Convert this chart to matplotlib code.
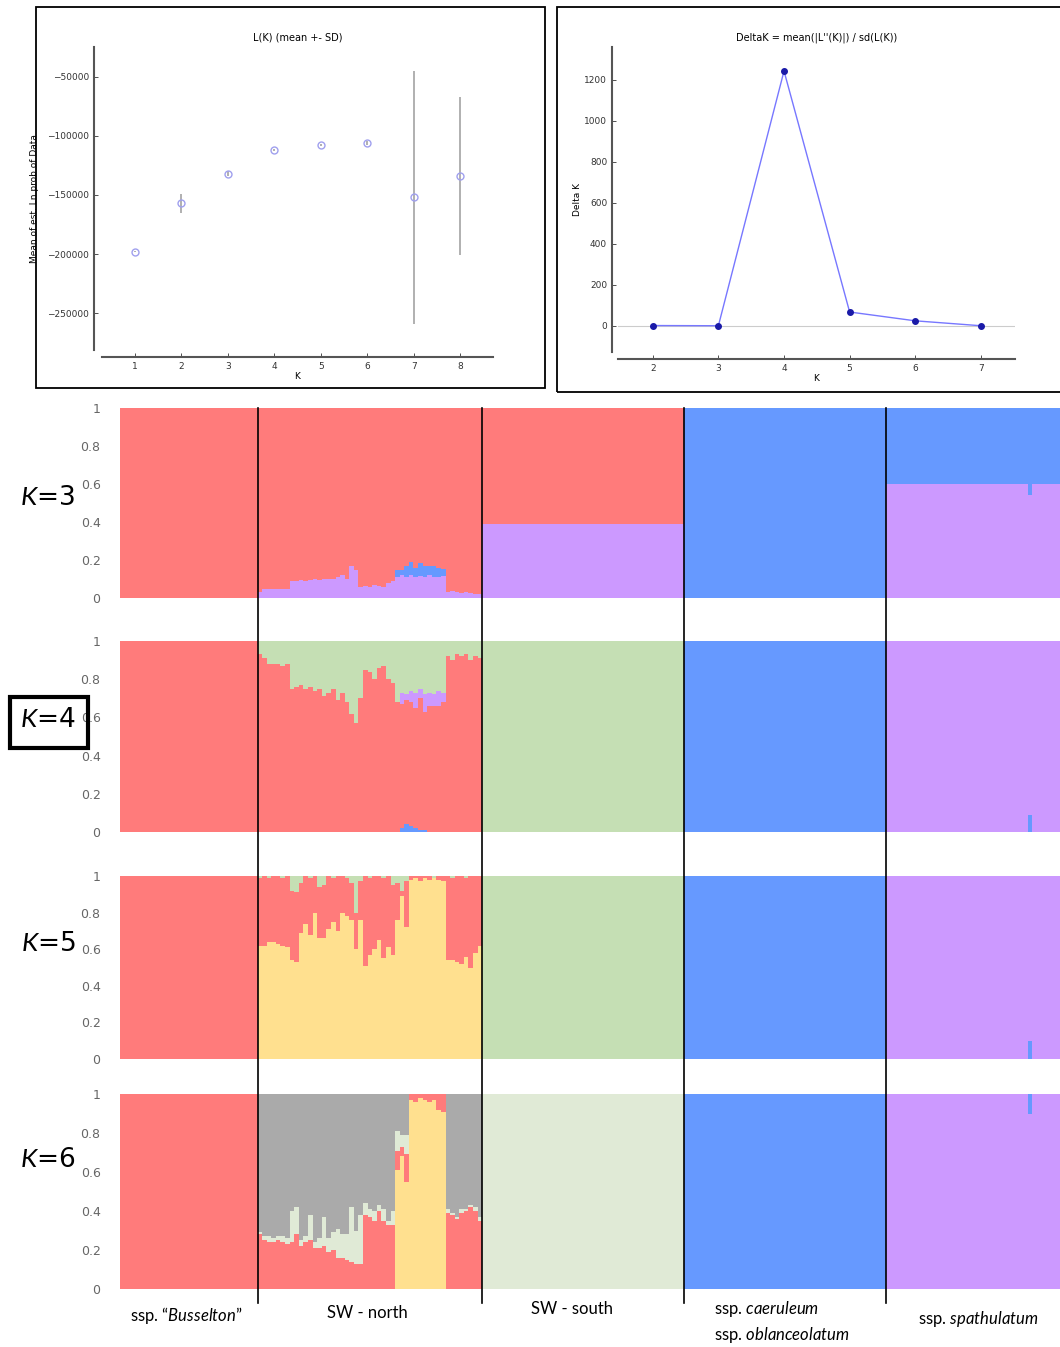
import numpy as np
import matplotlib.pyplot as plt
from matplotlib.patches import Rectangle
from matplotlib.lines import Line2D

plt.rcParams['mathtext.fontset'] = 'custom'
plt.rcParams['mathtext.rm'] = 'Lato'
plt.rcParams['mathtext.it'] = 'Lato:italic'

# ---- Evanno summary ----
k_lk = [1, 2, 3, 4, 5, 6, 7, 8]
lk_mean = [-198000, -157000, -132000, -112000, -108000, -106000, -152000, -134000]
lk_sd = [500, 8000, 2000, 1000, 800, 1500, 107000, 67000]

k_delta = [2, 3, 4, 5, 6, 7]
delta_k = [2, 1, 1243, 68, 25, 1]

# ---- STRUCTURE barplots ----
group_labels = ['ssp. \u201c$\\it{Busselton}$\u201d', 'SW - north', 'SW - south',
                'ssp. $\\it{caeruleum}$\nssp. $\\it{oblanceolatum}$', 'ssp. $\\it{spathulatum}$']
group_sizes = [30, 49, 44, 44, 38]

colors = {'red': '#ff7b7b', 'purple': '#cc99ff', 'blue': '#6699ff', 'green': '#c5dfb4',
          'yellow': '#ffe08f', 'gray': '#aaaaaa', 'pale': '#e0ead6'}

# SW - north individuals
k3_north_purple = [0.03, 0.045, 0.05, 0.045, 0.05, 0.045, 0.05,
                   0.09, 0.09, 0.095, 0.09, 0.095, 0.10, 0.095, 0.10, 0.10,
                   0.10, 0.11, 0.12, 0.10, 0.17, 0.15,
                   0.06, 0.065, 0.06, 0.07, 0.065, 0.06, 0.08, 0.09,
                   0.11, 0.12, 0.11, 0.12, 0.11, 0.115, 0.11, 0.12, 0.11, 0.11, 0.115,
                   0.03, 0.035, 0.03, 0.025, 0.03, 0.025, 0.02, 0.02]
k3_north_blue = [0] * 30 + [0.04, 0.03, 0.06, 0.07, 0.05, 0.07, 0.06, 0.05, 0.06, 0.05, 0.04] + [0] * 8

k4_north_green = [0.07, 0.09, 0.12, 0.12, 0.12, 0.13, 0.12, 0.25, 0.24, 0.23, 0.25, 0.24, 0.26,
                  0.25, 0.29, 0.27, 0.25, 0.31, 0.27, 0.32, 0.38, 0.43, 0.30, 0.15, 0.16, 0.20,
                  0.14, 0.13, 0.20, 0.22, 0.32, 0.27, 0.28, 0.26, 0.27, 0.25, 0.28, 0.27, 0.28,
                  0.26, 0.27, 0.08, 0.10, 0.07, 0.08, 0.07, 0.10, 0.08, 0.09]
k4_north_purple = [0] * 31 + [0.06, 0.03, 0.06, 0.08, 0.05, 0.09, 0.07, 0.06, 0.08, 0.05] + [0] * 8
k4_north_blue = [0] * 31 + [0.02, 0.04, 0.03, 0.02, 0.01, 0.01] + [0] * 12

k5_north_yellow = [0.62, 0.62, 0.64, 0.64, 0.63, 0.62, 0.61, 0.54, 0.53, 0.69, 0.74, 0.68, 0.80,
                   0.66, 0.66, 0.71, 0.75, 0.70, 0.80, 0.78, 0.76, 0.60, 0.76, 0.51, 0.57, 0.60,
                   0.65, 0.55, 0.61, 0.57, 0.76, 0.89, 0.72, 0.98, 0.99, 0.97, 0.99, 0.98, 0.99,
                   0.98, 0.97, 0.54, 0.54, 0.53, 0.52, 0.56, 0.50, 0.58, 0.62]
k5_north_green = [0.01, 0, 0.01, 0, 0, 0.01, 0, 0.08, 0.09, 0.04, 0, 0.01, 0, 0.06, 0.05, 0, 0.01,
                  0, 0, 0.01, 0.04, 0.20, 0.03, 0, 0.01, 0, 0, 0.01, 0, 0.05, 0.04, 0.08, 0.03,
                  0, 0, 0, 0, 0, 0.01, 0, 0, 0, 0.01, 0, 0, 0.01, 0, 0, 0]

k6_north_red = [0.28, 0.25, 0.24, 0.24, 0.25, 0.24, 0.23, 0.24, 0.28, 0.22, 0.24, 0.25, 0.21,
                0.21, 0.22, 0.19, 0.20, 0.16, 0.16, 0.15, 0.14, 0.13, 0.13, 0.38, 0.37, 0.35,
                0.40, 0.35, 0.33, 0.33, 0.10, 0.05, 0.14, 0.03, 0.04, 0.02, 0.03, 0.04, 0.03,
                0.08, 0.09, 0.39, 0.38, 0.36, 0.39, 0.40, 0.42, 0.40, 0.35]
k6_north_pale = [0.01, 0.02, 0.03, 0.02, 0.02, 0.03, 0.03, 0.16, 0.14, 0.03, 0.03, 0.13, 0.03,
                 0.05, 0.15, 0.07, 0.09, 0.15, 0.12, 0.13, 0.28, 0.17, 0.25, 0.06, 0.04, 0.05,
                 0.03, 0.06, 0.02, 0.07, 0.10, 0.06, 0.10, 0, 0, 0, 0, 0, 0, 0, 0,
                 0.02, 0.01, 0.01, 0.02, 0.01, 0.01, 0.02, 0.02]
k6_north_yellow = [0] * 30 + [0.61, 0.68, 0.55, 0.97, 0.96, 0.98, 0.97, 0.96, 0.97, 0.92, 0.91] + [0] * 8

# other groups: composition [Busselton, SW-south, caeruleum, spathulatum]
k3_groups = {'purple': [0, 0.39, 0, 0.60], 'blue': [0, 0, 1, 0.40], 'red': [1, 0.61, 0, 0]}
k4_groups = {'blue': [0, 0, 1, 0], 'red': [1, 0, 0, 0], 'purple': [0, 0, 0, 1], 'green': [0, 1, 0, 0]}
k5_groups = {'blue': [0, 0, 1, 0], 'yellow': [0, 0, 0, 0], 'red': [1, 0, 0, 0],
             'green': [0, 1, 0, 0], 'purple': [0, 0, 0, 1]}
k6_groups = {'yellow': [0, 0, 0, 0], 'red': [1, 0, 0, 0], 'pale': [0, 1, 0, 0],
             'gray': [0, 0, 0, 0], 'purple': [0, 0, 0, 1], 'blue': [0, 0, 1, 0]}

# one spathulatum individual with some blue
spath_odd = 31
k3_odd = {'purple': 0.54, 'blue': 0.46}
k4_odd = {'blue': 0.09, 'purple': 0.91}
k5_odd = {'blue': 0.10, 'purple': 0.90}
k6_odd = {'purple': 0.90, 'blue': 0.10}


def build(groups, north, odd):
    out = {}
    for comp, vals in groups.items():
        parts = [np.full(group_sizes[0], vals[0]), np.array(north[comp], dtype=float)]
        for g, v in zip(group_sizes[2:], vals[1:]):
            parts.append(np.full(g, v))
        out[comp] = np.concatenate(parts)
    i = sum(group_sizes[:4]) + spath_odd
    for comp, v in odd.items():
        out[comp][i] = v
    return out


def north_rest(*lists):
    return list(1 - np.sum([np.array(l) for l in lists], axis=0))


nn = group_sizes[1]
k3_north = {'purple': k3_north_purple, 'blue': k3_north_blue,
            'red': north_rest(k3_north_purple, k3_north_blue)}
k4_north = {'blue': k4_north_blue,
            'red': north_rest(k4_north_blue, k4_north_purple, k4_north_green),
            'purple': k4_north_purple, 'green': k4_north_green}
k5_north = {'blue': [0] * nn, 'yellow': k5_north_yellow,
            'red': north_rest(k5_north_yellow, k5_north_green),
            'green': k5_north_green, 'purple': [0] * nn}
k6_north = {'yellow': k6_north_yellow, 'red': k6_north_red, 'pale': k6_north_pale,
            'gray': north_rest(k6_north_yellow, k6_north_red, k6_north_pale),
            'purple': [0] * nn, 'blue': [0] * nn}

panels = [('$\\it{K}$=3', build(k3_groups, k3_north, k3_odd)),
          ('$\\it{K}$=4', build(k4_groups, k4_north, k4_odd)),
          ('$\\it{K}$=5', build(k5_groups, k5_north, k5_odd)),
          ('$\\it{K}$=6', build(k6_groups, k6_north, k6_odd))]

W, H = 1060, 1347
fig = plt.figure(figsize=(W / 100, H / 100), dpi=100)


def fx(x):
    return x / W


def fy(y):
    return 1 - y / H


# ---- L(K) panel ----
ax1 = fig.add_axes([fx(102), fy(350), fx(493) - fx(102), fy(47) - fy(350)])
ax1.errorbar(k_lk, lk_mean, yerr=lk_sd, fmt='o', mfc='none', mec='#a0a0ee', ms=5,
             ecolor='#aaaaaa', elinewidth=1.3, capsize=0)
ax1.set_xlim(0.3, 8.7)
ax1.set_ylim(-281000, -25000)
ax1.set_xticks(k_lk)
ax1.set_yticks([-250000, -200000, -150000, -100000, -50000])
ax1.set_title('L(K) (mean +- SD)', fontsize=7, pad=5)
ax1.set_xlabel('K', fontsize=6.5, labelpad=1)
ax1.set_ylabel('Mean of est. Ln prob of Data', fontsize=6.5)
ax1.yaxis.set_label_coords(-0.16, 0.5)

# ---- Delta K panel ----
ax2 = fig.add_axes([fx(618), fy(352), fx(1015) - fx(618), fy(47) - fy(352)])
ax2.axhline(0, color='#cccccc', lw=0.8)
ax2.plot(k_delta, delta_k, '-', color='#7777ff', lw=1)
ax2.plot(k_delta, delta_k, 'o', color='#1a1aa8', ms=4)
ax2.set_xlim(1.47, 7.52)
ax2.set_ylim(-127, 1360)
ax2.set_xticks(k_delta)
ax2.set_yticks([0, 200, 400, 600, 800, 1000, 1200])
ax2.set_title("DeltaK = mean(|L''(K)|) / sd(L(K))", fontsize=7, pad=5)
ax2.set_xlabel('K', fontsize=6.5, labelpad=1)
ax2.set_ylabel('Delta K', fontsize=6.5)
ax2.yaxis.set_label_coords(-0.09, 0.5)

for ax, lo, bo in [(ax1, 5.8, 5), (ax2, 4.3, 5)]:
    ax.spines['top'].set_visible(False)
    ax.spines['right'].set_visible(False)
    ax.spines['left'].set_position(('outward', lo))
    ax.spines['bottom'].set_position(('outward', bo))
    for s in ['left', 'bottom']:
        ax.spines[s].set_color('#555555')
        ax.spines[s].set_linewidth(1.5)
    ax.tick_params(labelsize=6.5, colors='#333333', length=3, direction='in', width=0.6)

fig.add_artist(Rectangle((fx(36), fy(388)), fx(545) - fx(36), fy(7) - fy(388),
                         transform=fig.transFigure, fill=False, lw=1.3, ec='black'))
fig.add_artist(Rectangle((fx(557), fy(392)), fx(1066) - fx(557), fy(7) - fy(392),
                         transform=fig.transFigure, fill=False, lw=1.3, ec='black'))

# ---- structure panels ----
boxes = [(408, 598), (641, 832), (876, 1059), (1094, 1289)]
label_y = [498, 720, 944, 1160]
n = sum(group_sizes)
x = np.arange(n)
for (lab, comp), (top, bot), ly in zip(panels, boxes, label_y):
    ax = fig.add_axes([fx(120), fy(bot), fx(1060) - fx(120), fy(top) - fy(bot)])
    bottom = np.zeros(n)
    for c, vals in comp.items():
        ax.bar(x, vals, bottom=bottom, width=1.0, align='edge', color=colors[c],
               linewidth=0, antialiased=False)
        bottom = bottom + vals
    ax.set_xlim(0, n)
    ax.set_ylim(0, 1)
    ax.set_xticks([])
    ax.set_yticks([0, 0.2, 0.4, 0.6, 0.8, 1])
    ax.set_yticklabels(['0', '0.2', '0.4', '0.6', '0.8', '1'])
    ax.tick_params(axis='y', length=0, pad=14, labelsize=9, labelcolor='#666666')
    for s in ax.spines.values():
        s.set_visible(False)
    fig.text(fx(48), fy(ly), lab, fontsize=19, ha='center', va='center')

fig.add_artist(Rectangle((fx(10), fy(748)), fx(88) - fx(10), fy(697) - fy(748),
                         transform=fig.transFigure, fill=False, lw=3, ec='black'))

# group separators
edges = np.cumsum(group_sizes)[:-1]
for e in edges:
    xf = fx(120) + e / n * (fx(1060) - fx(120))
    fig.add_artist(Line2D([xf, xf], [fy(408), fy(1303)], transform=fig.transFigure,
                          color='black', lw=1.2, zorder=10))

# group labels
lab_pos = [(186, 1316, 'center'), (367, 1313, 'center'), (572, 1309, 'center'),
           (714, 1322, 'left'), (978, 1319, 'center')]
for txt, (lx, lyy, ha) in zip(group_labels, lab_pos):
    fig.text(fx(lx), fy(lyy), txt, fontsize=12, ha=ha, va='center', family='Lato',
             linespacing=1.35)

fig.savefig('out.png', dpi=100)
